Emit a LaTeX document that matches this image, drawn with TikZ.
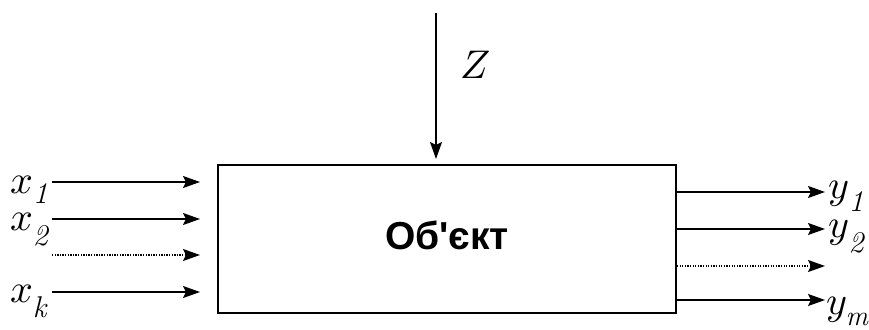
\documentclass[tikz,border=0pt]{standalone}
\usepackage{fontspec}
\usepackage{unicode-math}
\newfontfamily\objfont{Liberation Sans}
\usetikzlibrary{arrows.meta}
\newcommand{\sublbl}[3]{$#1$\kern-1pt\raisebox{#3}{\fontsize{30}{30}\selectfont\itshape #2}}
\begin{document}
\begin{tikzpicture}[x=1pt,y=-1pt,line width=1.8pt,
  arr/.style={-{Stealth[length=17pt,width=12pt,inset=3pt]}},
  dotline/.style={dash pattern=on 1.3pt off 1.3pt,line width=1.5pt},
  lbl/.style={font=\fontsize{40}{40}\selectfont,inner sep=0pt,anchor=base west},
  boxstyle/.style={draw,line width=1.8pt,minimum width=458pt,minimum height=148pt,inner sep=0pt}]
\useasboundingbox (0,0) rectangle (869,329);
\node[boxstyle] (obj) at (447,239) {};
\node[font=\objfont\bfseries\fontsize{39}{40}\selectfont,inner sep=0pt] (objtxt) at (447,235) {Об\textquotesingle єкт};
% Z
\coordinate (zs) at (436,13);
\coordinate (ze) at (436,159);
\draw[arr] (zs) -- (ze);
\node[lbl] (zl) at (460,78) {$Z$};
% inputs
\coordinate (i1s) at (52,182); \coordinate (i1e) at (200,182);
\coordinate (i2s) at (52,219); \coordinate (i2e) at (200,219);
\coordinate (i3s) at (52,255); \coordinate (i3e) at (200,255);
\coordinate (i4s) at (52,292); \coordinate (i4e) at (200,292);
\draw[arr] (i1s) -- (i1e);
\draw[arr] (i2s) -- (i2e);
\draw[arr,dotline] (i3s) -- (i3e);
\draw[arr] (i4s) -- (i4e);
\node[lbl] (x1) at (10,193) {\sublbl{x}{1}{-10pt}};
\node[lbl] (x2) at (10,230) {\sublbl{x}{2}{-15pt}};
\node[lbl] (xk) at (10,302) {\sublbl{x}{k}{-15pt}};
% outputs
\coordinate (o1) at (825,192);
\coordinate (o2) at (825,229);
\coordinate (o3) at (825,266);
\coordinate (o4) at (825,300);
\draw[arr] (obj.east |- o1) -- (o1);
\draw[arr] (obj.east |- o2) -- (o2);
\draw[arr,dotline] (obj.east |- o3) -- (o3);
\draw[arr] (obj.east |- o4) -- (o4);
\node[lbl] (y1) at (828,198) {\sublbl{y}{1}{-13pt}};
\node[lbl] (y2) at (828,237) {\sublbl{y}{2}{-15pt}};
\node[lbl] (ym) at (826,314) {$y$\kern-2pt\raisebox{-11pt}{\fontsize{28}{28}\selectfont\itshape m}};
\end{tikzpicture}
\end{document}
